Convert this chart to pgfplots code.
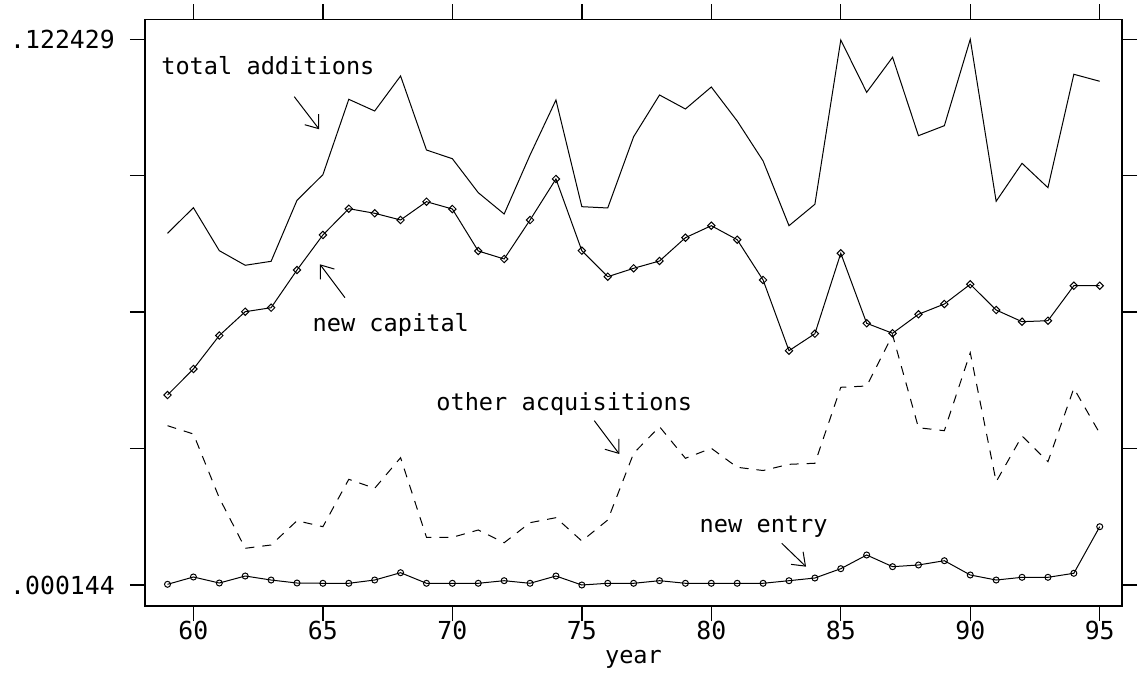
\documentclass[border=0pt]{standalone}
\usepackage{pgfplots}
\pgfplotsset{compat=1.18}
\usepackage{fontspec}
\setmainfont{DejaVu Sans Mono}
\usetikzlibrary{arrows.meta}

\begin{document}
\fontsize{11.8}{14}\selectfont
\begin{tikzpicture}
\begin{axis}[
    scale only axis,
    width=488.5pt, height=293.35pt,
    xmin=58.13, xmax=95.86,
    ymin=-0.00456, ymax=0.12691,
    axis line style={line width=0.7pt},
    tick align=outside,
    major tick length=7.5pt,
    tick style={line width=0.7pt, black},
    xtick={60,65,...,95},
    xticklabels={60,65,70,75,80,85,90,95},
    ytick={0.000144,0.030715,0.061286,0.091858,0.122429},
    yticklabels={.000144,,,,.122429},
    scaled y ticks=false,
    xtick pos=both, ytick pos=both,
    xticklabel pos=lower, yticklabel pos=lower,
    tick label style={font=\fontsize{12.4}{14}\selectfont},
    xticklabel style={yshift=4pt},
    yticklabel style={xshift=-3.5pt},
    xlabel={year},
    xlabel style={at={(axis description cs:0.5,0)}, anchor=base, yshift=-28.5pt},
    every axis plot/.append style={black, line width=0.5pt},
]

% total additions
\addplot[no markers] coordinates {
  (59,0.07896) (60,0.08469) (61,0.07506) (62,0.07179) (63,0.07268)
  (64,0.08635) (65,0.09209) (66,0.10898) (67,0.10636) (68,0.11421)
  (69,0.09762) (70,0.09567) (71,0.08806) (72,0.08328) (73,0.09650)
  (74,0.10883) (75,0.08492) (76,0.08463) (77,0.10060) (78,0.10995)
  (79,0.10681) (80,0.11174) (81,0.10412) (82,0.09516) (83,0.08066)
  (84,0.08546) (85,0.12227) (86,0.11055) (87,0.11840) (88,0.10083)
  (89,0.10307) (90,0.122429) (91,0.08613) (92,0.09464) (93,0.08918)
  (94,0.11459) (95,0.11302)
};

% new capital
\addplot[mark=square, mark size=1.3pt, mark options={solid, rotate=45, line width=0.5pt}] coordinates {
  (59,0.04272) (60,0.04855) (61,0.05605) (62,0.06139) (63,0.06228)
  (64,0.07073) (65,0.07858) (66,0.08447) (67,0.08344) (68,0.08194)
  (69,0.08604) (70,0.08440) (71,0.07499) (72,0.07320) (73,0.08194)
  (74,0.09113) (75,0.07506) (76,0.06923) (77,0.07111) (78,0.07275)
  (79,0.07797) (80,0.08066) (81,0.07752) (82,0.06849) (83,0.05265)
  (84,0.05646) (85,0.07448) (86,0.05879) (87,0.05655) (88,0.06081)
  (89,0.06311) (90,0.06753) (91,0.06177) (92,0.05915) (93,0.05937)
  (94,0.06721) (95,0.06721)
};

% other acquisitions
\addplot[no markers, dash pattern=on 4.5pt off 4pt] coordinates {
  (59,0.03584) (60,0.03398) (61,0.01964) (62,0.00837) (63,0.00911)
  (64,0.01455) (65,0.01321) (66,0.02383) (67,0.02181) (68,0.02867)
  (69,0.01083) (70,0.01083) (71,0.01247) (72,0.00962) (73,0.01411)
  (74,0.01523) (75,0.01000) (76,0.01471) (77,0.02966) (78,0.03562)
  (79,0.02854) (80,0.03078) (81,0.02652) (82,0.02580) (83,0.02719)
  (84,0.02742) (85,0.04445) (86,0.04474) (87,0.05617) (88,0.03539)
  (89,0.03472) (90,0.05220) (91,0.02329) (92,0.03353) (93,0.02777)
  (94,0.04422) (95,0.03414)
};

% new entry
\addplot[mark=o, mark size=1.5pt, mark options={solid, line width=0.5pt}] coordinates {
  (59,0.00030) (60,0.00194) (61,0.00059) (62,0.00216) (63,0.00126)
  (64,0.00059) (65,0.00053) (66,0.00053) (67,0.00126) (68,0.00290)
  (69,0.00053) (70,0.00053) (71,0.00053) (72,0.00111) (73,0.00053)
  (74,0.00216) (75,0.000144) (76,0.00053) (77,0.00053) (78,0.00111)
  (79,0.00053) (80,0.00053) (81,0.00053) (82,0.00053) (83,0.00111)
  (84,0.00171) (85,0.00380) (86,0.00687) (87,0.00425) (88,0.00463)
  (89,0.00559) (90,0.00239) (91,0.00126) (92,0.00187) (93,0.00187)
  (94,0.00277) (95,0.01321)
};

% annotations
\node[anchor=base west, inner sep=0pt] at (axis cs:58.745,0.11465) {total additions};
\node[anchor=base west, inner sep=0pt] at (axis cs:64.589,0.05690) {new capital};
\node[anchor=base west, inner sep=0pt] at (axis cs:69.367,0.03936) {other acquisitions};
\node[anchor=base west, inner sep=0pt] at (axis cs:79.537,0.01195) {new entry};

\draw[line width=0.5pt, -{Straight Barb[length=5.8pt,width=8.7pt]}]
  (axis cs:63.894,0.10957) -- (axis cs:64.859,0.10226);
\draw[line width=0.5pt, -{Straight Barb[length=5.8pt,width=8.7pt]}]
  (axis cs:65.852,0.06453) -- (axis cs:64.886,0.07201);
\draw[line width=0.5pt, -{Straight Barb[length=5.8pt,width=8.7pt]}]
  (axis cs:75.481,0.03696) -- (axis cs:76.447,0.02950);
\draw[line width=0.5pt, -{Straight Barb[length=5.8pt,width=8.7pt]}]
  (axis cs:82.720,0.00949) -- (axis cs:83.658,0.00425);
\end{axis}
\pgfresetboundingbox
\path ([xshift=-72.5pt,yshift=-34.5pt]current axis.south west)
  rectangle ([xshift=9.5pt,yshift=9.65pt]current axis.north east);
\end{tikzpicture}
\end{document}
